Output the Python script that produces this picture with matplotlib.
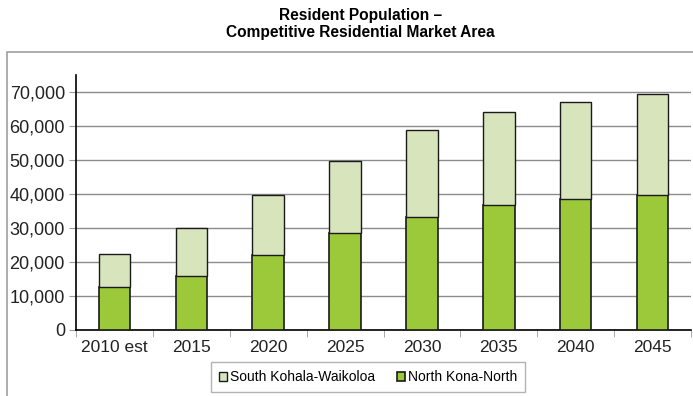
import matplotlib
matplotlib.use('Agg')
import matplotlib.pyplot as plt
from matplotlib.patches import Rectangle
import numpy as np

plt.rcParams['font.family'] = ['Liberation Sans', 'DejaVu Sans']

# Data
years = ['2010 est', '2015', '2020', '2025', '2030', '2035', '2040', '2045']
north_kona = [12600, 15900, 22000, 28500, 33200, 36800, 38500, 39800]
totals = [22300, 30000, 39600, 49700, 58800, 64200, 67100, 69400]
south_kohala = [t - n for t, n in zip(totals, north_kona)]

fig = plt.figure(figsize=(6.93, 3.96), dpi=100)
ax = fig.add_axes([76 / 693, 66 / 396, 615 / 693, 255 / 396])

# outer frame of the chart
fig.patches.append(Rectangle((7 / 693, -0.05), 1.0, (396 - 52) / 396 + 0.05,
                             transform=fig.transFigure, fill=False,
                             edgecolor='#a0a0a0', linewidth=1.2))

x = np.arange(len(years))
w = 0.41
ax.bar(x, north_kona, w, color='#9bc93a', edgecolor='#1a1a1a', linewidth=1.2,
       label='North Kona-North', zorder=3)
ax.bar(x, south_kohala, w, bottom=north_kona, color='#d8e4bc',
       edgecolor='#1a1a1a', linewidth=1.0, label='South Kohala-Waikoloa', zorder=3)

ax.set_xlim(-0.5, len(years) - 0.5)
ax.set_ylim(0, 75000)
ax.set_yticks(range(0, 70001, 10000))
ax.set_yticklabels([f'{v:,}' for v in range(0, 70001, 10000)])
ax.yaxis.grid(True, color='#8c8c8c', linewidth=1.0, zorder=0)
ax.set_axisbelow(True)

ax.set_xticks(x)
ax.set_xticklabels(years)
ax.set_xticks(np.arange(-0.5, len(years)), minor=True)
ax.tick_params(axis='x', which='major', length=0, pad=7, labelsize=12.5, colors='#222222')
ax.tick_params(axis='x', which='minor', length=5, color='#999999', direction='out')
ax.tick_params(axis='y', length=5, labelsize=13, colors='#222222', pad=3)
ax.tick_params(axis='y', color='#999999')

for s in ['top', 'right']:
    ax.spines[s].set_visible(False)
ax.spines['left'].set_color('black')
ax.spines['bottom'].set_color('black')
ax.spines['left'].set_linewidth(1.2)
ax.spines['bottom'].set_linewidth(1.2)

fig.text(0.52, 0.98, 'Resident Population \u2013\nCompetitive Residential Market Area',
         ha='center', va='top', fontsize=11.2, fontweight='bold', linespacing=1.15)

handles, labels = ax.get_legend_handles_labels()
leg = fig.legend(handles[::-1], labels[::-1], loc='center', ncol=2,
                 bbox_to_anchor=(368 / 693, 1 - 377 / 396), fontsize=10,
                 frameon=True, fancybox=False, edgecolor='#a0a0a0',
                 handlelength=0.6, handleheight=0.6, handletextpad=0.2,
                 columnspacing=1.6, borderpad=0.55)
leg.get_frame().set_linewidth(1.0)

fig.savefig('out.png', dpi=100)
